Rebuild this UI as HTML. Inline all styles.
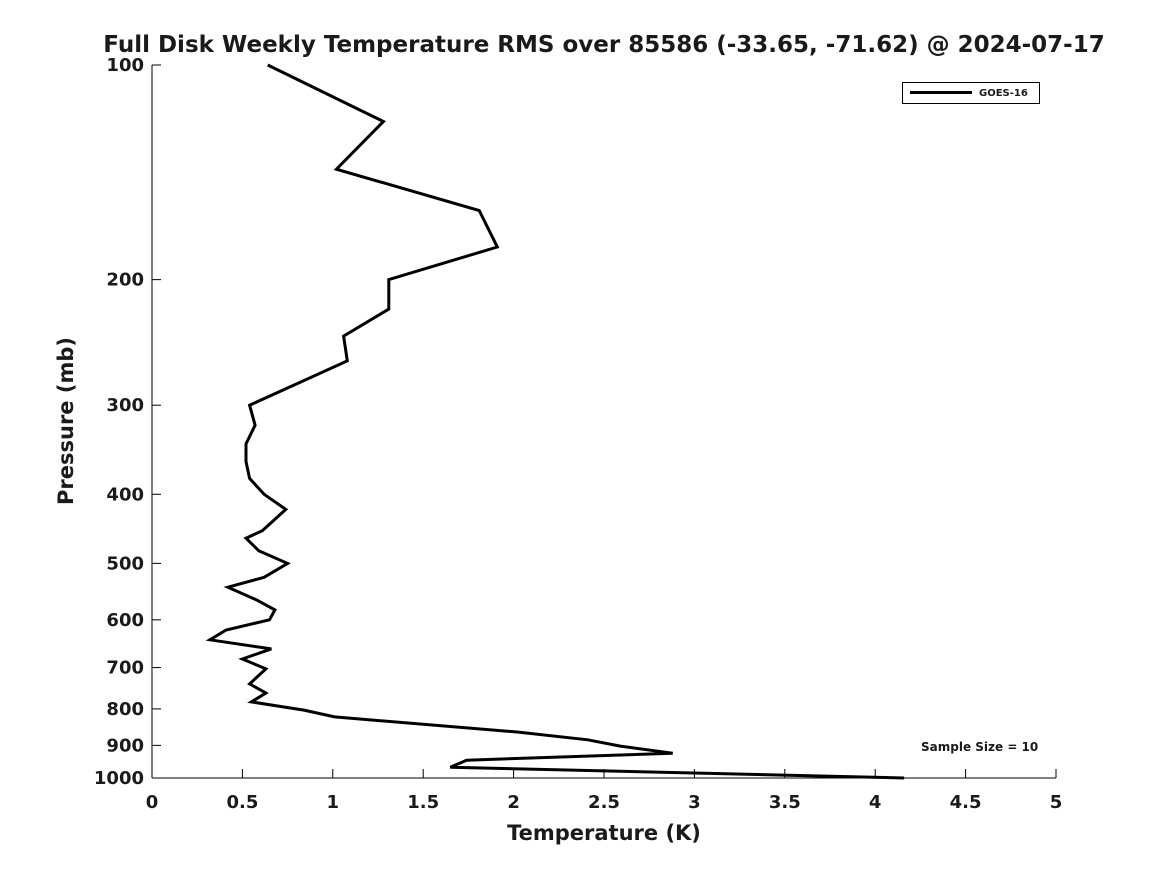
<!DOCTYPE html>
<html><head><meta charset="utf-8"><style>
body{margin:0;background:#fff;}
svg text{font-family:"DejaVu Sans","Liberation Sans",sans-serif;font-weight:bold;fill:#1a1a1a;}
</style></head><body>
<svg id="chart" width="1167" height="875" xmlns="http://www.w3.org/2000/svg">
<text x="604" y="52" font-size="23" text-anchor="middle" fill="#000">Full Disk Weekly Temperature RMS over 85586 (-33.65, -71.62) @ 2024-07-17</text>
<g id="axes"></g>
<g id="series"></g>
<g>
<rect x="902.5" y="82.5" width="137" height="21" fill="#fff" stroke="#000" stroke-width="1"/>
<line x1="910" y1="92.5" x2="972" y2="92.5" stroke="#000" stroke-width="3"/>
<text x="979" y="96" font-size="10" fill="#000">GOES-16</text>
</g>
<text x="921" y="751" font-size="12" fill="#000">Sample Size = 10</text>
<text x="604" y="840" font-size="21" text-anchor="middle">Temperature (K)</text>
<text transform="translate(73,421) rotate(-90)" font-size="21" text-anchor="middle">Pressure (mb)</text>
</svg>
<script>
const temps=[0.64,1.28,1.02,1.81,1.91,1.31,1.31,1.06,1.08,0.54,0.57,0.52,0.52,0.54,0.62,0.74,0.61,0.52,0.59,0.75,0.62,0.42,0.58,0.68,0.65,0.41,0.32,0.66,0.50,0.63,0.54,0.63,0.55,0.84,1.01,2.02,2.41,2.59,2.88,1.74,1.65,4.16];
const pressures=[100,120,140,160,180,200,220,240,260,300,320,340,360,380,400,420,450,461,480,500,523,540,563,581,600,620,640,659,681,703,738,760,782,803,821,862,884,902,923,944,966,1000];
const xTicks=[0,0.5,1,1.5,2,2.5,3,3.5,4,4.5,5];
const xTickLabels=["0","0.5","1","1.5","2","2.5","3","3.5","4","4.5","5"];
const yTicks=[100,200,300,400,500,600,700,800,900,1000];
const X0=152,X1=1056,Y0=65,Y1=778;
const xs=v=>X0+(v-0)/(5-0)*(X1-X0);
const ys=p=>Y0+(Math.log10(p)-2)/(3-2)*(Y1-Y0);
const NS="http://www.w3.org/2000/svg";
const axes=document.getElementById('axes');
function mk(t,a,parent){const e=document.createElementNS(NS,t);for(const k in a)e.setAttribute(k,a[k]);parent.appendChild(e);return e;}
const xl=mk('line',{x1:X0,y1:Y1,x2:X1,y2:Y1,stroke:'#000','stroke-width':1},axes);


const yl=mk('line',{x1:X0,y1:Y0,x2:X0,y2:Y1,stroke:'#000','stroke-width':1},axes);


xTicks.forEach((v,i)=>{
 const x=xs(v);
 mk('line',{x1:x,y1:Y1,x2:x,y2:Y1-9,stroke:'#000'},axes);
 const t=mk('text',{x:x,y:808,'font-size':18,'text-anchor':'middle'},axes);
 t.textContent=xTickLabels[i];
 
 
});
yTicks.forEach(p=>{
 const y=ys(p);
 mk('line',{x1:X0,y1:y,x2:X0+9,y2:y,stroke:'#000'},axes);
 const t=mk('text',{x:X0-8,y:y+6,'font-size':18,'text-anchor':'end'},axes);
 t.textContent=String(p);
 
 
});
const pts=temps.map((t,i)=>xs(t).toFixed(1)+','+ys(pressures[i]).toFixed(1)).join(' ');
const pl=mk('polyline',{points:pts,fill:'none',stroke:'#000','stroke-width':3,'stroke-linejoin':'miter'},document.getElementById('series'));


</script>
</body></html>
